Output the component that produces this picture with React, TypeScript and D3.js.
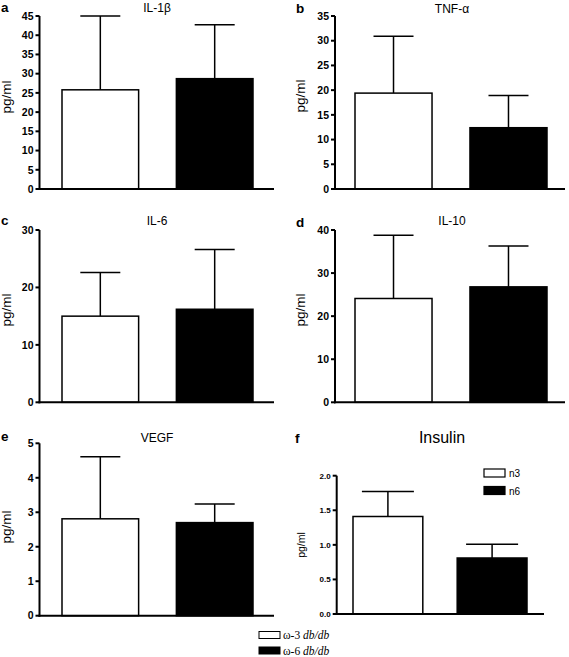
import React from "react";
import * as d3 from "d3";

const groups = ["n3", "n6"];
const panelLetters = ["a", "b", "c", "d", "e", "f"];
const panelTitles = ["IL-1β", "TNF-α", "IL-6", "IL-10", "VEGF", "Insulin"];
const n3Means = [25.8, 19.4, 15.0, 24.1, 2.81, 1.41];
const n3Upper = [45.0, 30.9, 22.6, 38.8, 4.61, 1.77];
const n6Means = [28.7, 12.4, 16.2, 26.8, 2.70, 0.81];
const n6Upper = [42.7, 18.9, 26.6, 36.3, 3.24, 1.01];
const yMaxes = [45, 35, 30, 40, 5, 2];
const tickSteps = [5, 5, 10, 10, 1, 0.5];
const tickFormats = ["d", "d", "d", "d", "d", ".1f"];
const legendInner = ["n3", "n6"];
const legendBottom = ["ω-3", "ω-6"];

// layout (pixels)
type Layout = {
  axisX: number; axisEnd: number; yTop: number; yBot: number;
  barL: number; barR: number; cap: number;
  titleX: number; titleY: number; titleSize: number;
  letterX: number; letterY: number;
  ylabX: number; ylabY: number; ylabSize: number;
  tickSize: number;
};
const layouts: Layout[] = [
  { axisX: 39.5, axisEnd: 274, yTop: 16, yBot: 189, barL: 62, barR: 253, cap: 40, titleX: 157, titleY: 12, titleSize: 12, letterX: 1, letterY: 12, ylabX: 11, ylabY: 97, ylabSize: 13.5, tickSize: 10.5 },
  { axisX: 335, axisEnd: 565, yTop: 16, yBot: 189, barL: 355, barR: 547, cap: 40, titleX: 452, titleY: 12.5, titleSize: 12, letterX: 296, letterY: 13, ylabX: 305, ylabY: 96, ylabSize: 13.5, tickSize: 10.5 },
  { axisX: 39.5, axisEnd: 274, yTop: 230, yBot: 402.3, barL: 62, barR: 253, cap: 40, titleX: 157, titleY: 225, titleSize: 12, letterX: 1, letterY: 225, ylabX: 11, ylabY: 310, ylabSize: 13.5, tickSize: 10.5 },
  { axisX: 335, axisEnd: 565, yTop: 230, yBot: 402.3, barL: 355, barR: 547, cap: 40, titleX: 452, titleY: 225, titleSize: 12, letterX: 296, letterY: 226.5, ylabX: 305, ylabY: 310, ylabSize: 13.5, tickSize: 10.5 },
  { axisX: 39.5, axisEnd: 274, yTop: 443.3, yBot: 615.7, barL: 62, barR: 253, cap: 40, titleX: 157, titleY: 442, titleSize: 12, letterX: 1, letterY: 441, ylabX: 11, ylabY: 527, ylabSize: 13.5, tickSize: 10.5 },
  { axisX: 336.7, axisEnd: 544, yTop: 475.7, yBot: 614, barL: 353, barR: 527, cap: 52, titleX: 442, titleY: 443, titleSize: 16, letterX: 295, letterY: 443, ylabX: 305, ylabY: 545, ylabSize: 10.5, tickSize: 8 },
];

const SANS = "'Liberation Sans', Arial, sans-serif";
const SERIF = "'Liberation Serif', 'Times New Roman', serif";

function Panel({ i }: { i: number }) {
  const L = layouts[i];
  const y = d3.scaleLinear().domain([0, yMaxes[i]]).range([L.yBot, L.yTop]);
  const x = d3.scaleBand<string>().domain(groups).range([L.barL, L.barR]).paddingInner(0.33).paddingOuter(0);
  const ticks = d3.range(0, yMaxes[i] + tickSteps[i] / 2, tickSteps[i]);
  const fmt = d3.format(tickFormats[i]);
  const means = [n3Means[i], n6Means[i]];
  const uppers = [n3Upper[i], n6Upper[i]];
  return (
    <g>
      <text x={L.letterX} y={L.letterY} fontFamily={SANS} fontWeight="bold" fontSize={13.5}>{panelLetters[i]}</text>
      <text x={L.titleX} y={L.titleY} textAnchor="middle" fontFamily={SANS} fontSize={L.titleSize}>{panelTitles[i]}</text>
      <text transform={`translate(${L.ylabX},${L.ylabY}) rotate(-90)`} textAnchor="middle" fontFamily={SANS} fontSize={L.ylabSize}>pg/ml</text>
      {groups.map((g, k) => {
        const bx = x(g)!;
        const bw = x.bandwidth();
        const cx = bx + bw / 2;
        return (
          <g key={g}>
            <line x1={cx} x2={cx} y1={y(means[k])} y2={y(uppers[k])} stroke="#000" strokeWidth={1.5} />
            <line x1={cx - L.cap / 2} x2={cx + L.cap / 2} y1={y(uppers[k])} y2={y(uppers[k])} stroke="#000" strokeWidth={1.5} />
            <rect x={bx} y={y(means[k])} width={bw} height={y(0) - y(means[k])} fill={k === 0 ? "#fff" : "#000"} stroke="#000" strokeWidth={1.5} />
          </g>
        );
      })}
      <line x1={L.axisX} x2={L.axisX} y1={L.yTop} y2={L.yBot + 1} stroke="#000" strokeWidth={2} />
      <line x1={L.axisX - 1} x2={L.axisEnd} y1={L.yBot} y2={L.yBot} stroke="#000" strokeWidth={2} />
      {ticks.map((t) => (
        <g key={t}>
          <line x1={L.axisX - 4} x2={L.axisX} y1={y(t)} y2={y(t)} stroke="#000" strokeWidth={2} />
          <text x={L.axisX - 6} y={y(t)} dy="0.36em" textAnchor="end" fontFamily={SANS} fontWeight="bold" fontSize={L.tickSize}>{fmt(t)}</text>
        </g>
      ))}
    </g>
  );
}

export default function App() {
  return (
    <svg width={569} height={657} style={{ position: "absolute", left: 0, top: 0, background: "#fff" }}>
      <rect width={569} height={657} fill="#fff" />
      {panelTitles.map((_, i) => <Panel key={i} i={i} />)}
      {legendInner.map((t, k) => (
        <g key={t}>
          <rect x={484} y={469 + k * 17.5} width={21} height={8} fill={k === 0 ? "#fff" : "#000"} stroke="#000" strokeWidth={1.2} />
          <text x={509} y={477 + k * 17.5} fontFamily={SANS} fontSize={10}>{t}</text>
        </g>
      ))}
      {legendBottom.map((t, k) => (
        <g key={t}>
          <rect x={259} y={631.5 + k * 15.5} width={21} height={7} fill={k === 0 ? "#fff" : "#000"} stroke="#000" strokeWidth={1} />
          <text x={283} y={639 + k * 15.5} fontFamily={SERIF} fontSize={11.5}>
            {t} <tspan fontStyle="italic">db/db</tspan>
          </text>
        </g>
      ))}
    </svg>
  );
}
